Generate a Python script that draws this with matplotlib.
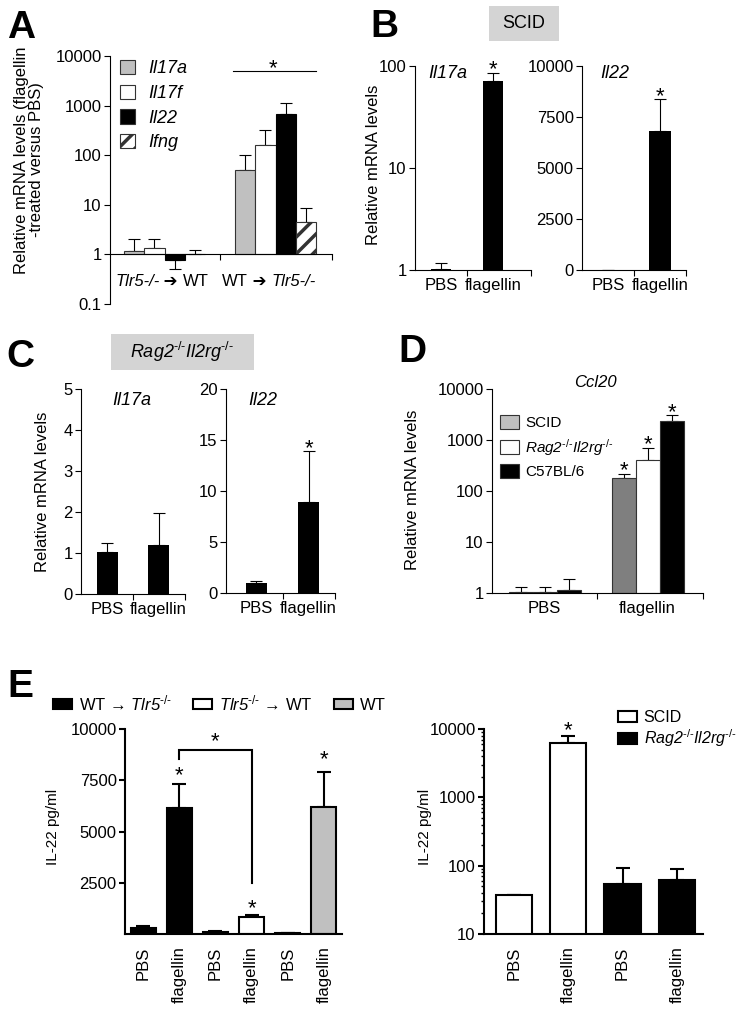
import matplotlib.pyplot as plt
from matplotlib.patches import Patch, Rectangle

plt.rcParams['font.family'] = ['Liberation Sans', 'DejaVu Sans']
plt.rcParams['font.size'] = 12
plt.rcParams['mathtext.fontset'] = 'custom'
plt.rcParams['mathtext.rm'] = 'Liberation Sans'
plt.rcParams['mathtext.it'] = 'Liberation Sans:italic'
plt.rcParams['mathtext.bf'] = 'Liberation Sans:bold'
plt.rcParams['hatch.linewidth'] = 2.5

GRAY = '#c0c0c0'
DARK_GRAY = '#7f7f7f'
W, H = 744, 1010
KO = '$^{\\text{-/-}}$'

# ---- data ----
# A: relative mRNA (flagellin vs PBS), bone-marrow chimeras
a_groups = ['Tlr5-/- ➔ WT', 'WT ➔ Tlr5-/-']
a_genes = ['Il17a', 'Il17f', 'Il22', 'Ifng']
a_il17a = [1.15, 50]
a_il17f = [1.34, 163]
a_il22 = [0.78, 690]
a_ifng = [1.02, 4.5]
a_il17a_sem = [0.92, 53]
a_il17f_sem = [0.66, 161]
a_il22_sem = [0.27, 440]
a_ifng_sem = [0.18, 4.2]

# B: SCID
b_conditions = ['PBS', 'flagellin']
b_il17a = [1.015, 71]
b_il17a_sem = [0.15, 15]
b_il22 = [15, 6800]
b_il22_sem = [0, 1570]

# C: Rag2-/-Il2rg-/-
c_conditions = ['PBS', 'flagellin']
c_il17a = [1.02, 1.19]
c_il17a_sem = [0.23, 0.78]
c_il22 = [1.02, 8.95]
c_il22_sem = [0.2, 4.98]

# D: Ccl20
d_conditions = ['PBS', 'flagellin']
d_strains = ['SCID', 'Rag2' + KO + 'Il2rg' + KO, 'C57BL/6']
d_scid = [1.03, 180]
d_rag = [1.04, 410]
d_c57 = [1.13, 2350]
d_scid_sem = [0.28, 38]
d_rag_sem = [0.27, 300]
d_c57_sem = [0.75, 800]

# E: IL-22 protein
e_left_labels = ['PBS', 'flagellin', 'PBS', 'flagellin', 'PBS', 'flagellin']
e_left_vals = [276, 6130, 114, 813, 49, 6210]
e_left_sem = [114, 1190, 49, 114, 0, 1710]
e_left_groups = ['$\\mathrm{WT}$ → Tlr5' + KO, 'Tlr5' + KO + ' → $\\mathrm{WT}$', 'WT']
e_right_labels = ['PBS', 'flagellin', 'PBS', 'flagellin']
e_right_vals = [37, 6230, 54, 62]
e_right_sem = [0, 1660, 38, 27]
e_right_groups = ['SCID', 'Rag2' + KO + 'Il2rg' + KO]


fig = plt.figure(figsize=(W / 100, H / 100), dpi=100)


def add_ax(left, top, right, bottom):
    return fig.add_axes([left / W, 1 - bottom / H, (right - left) / W, (bottom - top) / H])


def style_ax(ax, lw=0.8):
    ax.spines['top'].set_visible(False)
    ax.spines['right'].set_visible(False)
    ax.spines['left'].set_linewidth(lw)
    ax.spines['bottom'].set_linewidth(lw)
    ax.tick_params(axis='y', direction='out', length=4, width=lw, pad=2)


def set_x_cats(ax, centers, labels, bounds):
    ax.set_xticks(centers)
    ax.set_xticklabels(labels)
    ax.set_xticks(bounds, minor=True)
    ax.tick_params(axis='x', which='major', length=0, pad=6)
    ax.tick_params(axis='x', which='minor', length=4, width=0.8, direction='out')


def err_bars(ax, x, vals, sems, base=0, lw=0.8, cap=4):
    lower = [e if v < base else 0 for v, e in zip(vals, sems)]
    upper = [0 if v < base else e for v, e in zip(vals, sems)]
    ax.errorbar(x, vals, yerr=[lower, upper], fmt='none', ecolor='black',
                elinewidth=lw, capsize=cap, capthick=lw, zorder=1)


def star(ax, x, y, size=16):
    ax.annotate('*', (x, y), xytext=(0, -0.62 * size), textcoords='offset points',
                ha='center', va='baseline', fontsize=size, annotation_clip=False)


def chain_label(ax, x, y, label, dy):
    # label "a ➔ b": the Tlr5 part italic, the rest upright
    left, right = label.split(' ➔ ')
    prev = None
    for s in [left, ' ➔ ', right]:
        style = 'italic' if 'Tlr5' in s else 'normal'
        if prev is None:
            prev = ax.annotate(s, xy=(x, y), xytext=(0, dy), textcoords='offset points',
                               ha='left', va='center', fontstyle=style, annotation_clip=False)
        else:
            prev = ax.annotate(s, xy=(1, 0.5), xycoords=prev, ha='left', va='center',
                               fontstyle=style)


def panel_letter(x, y, s):
    fig.text(x / W, 1 - y / H, s, fontsize=28, fontweight='bold', va='baseline')


def ylabel(x, y, s, size=12, **kw):
    fig.text(x / W, 1 - y / H, s, rotation=90, ha='center', va='center', fontsize=size, **kw)


def gray_box(left, top, right, bottom, s, **kw):
    fig.patches.append(Rectangle((left / W, 1 - bottom / H), (right - left) / W,
                                 (bottom - top) / H, transform=fig.transFigure,
                                 facecolor='#d4d4d4', edgecolor='none'))
    fig.text((left + right) / 2 / W, 1 - (top + bottom) / 2 / H, s, ha='center',
             va='center', fontsize=13, **kw)


# ---- A ----
axA = add_ax(110, 56, 332, 304)
style_ax(axA)
axA.set_yscale('log')
axA.set_ylim(0.1, 10000)
axA.set_xlim(0, 10.94)
axA.set_yticks([0.1, 1, 10, 100, 1000, 10000])
axA.set_yticklabels(['0.1', '1', '10', '100', '1000', '10000'])
axA.minorticks_off()
axA.spines['bottom'].set_position(('data', 1))
a_centers = [2.69, 8.16]
a_series = [(a_il17a, a_il17a_sem, GRAY, ''), (a_il17f, a_il17f_sem, 'white', ''),
            (a_il22, a_il22_sem, 'black', ''), (a_ifng, a_ifng_sem, 'white', '//')]
a_handles = []
for i, (vals, sems, color, hatch) in enumerate(a_series):
    xs = [c + (i - 1.5) for c in a_centers]
    axA.bar(xs, [v - 1 for v in vals], bottom=1, width=1, color=color, hatch=hatch,
            edgecolor='#333333' if color != 'black' else 'black', linewidth=0.8, zorder=2)
    err_bars(axA, xs, vals, sems, base=1)
    a_handles.append(Patch(facecolor=color, hatch=hatch, edgecolor='#333333', linewidth=0.8))
set_x_cats(axA, a_centers, ['', ''], [5.42, 10.94])
for x0, label in zip([0.25, 5.52], a_groups):
    chain_label(axA, x0, 1, label, -19.5)
axA.plot([6.06, 10.15], [5000, 5000], color='black', lw=0.8)
star(axA, 8.03, 8300)
legA = axA.legend(a_handles, a_genes, loc='upper left', bbox_to_anchor=(120 / W, 1 - 60 / H),
                  bbox_transform=fig.transFigure, frameon=False, fontsize=13,
                  handlelength=0.85, handleheight=0.85, handletextpad=0.7,
                  labelspacing=0.4, borderpad=0, borderaxespad=0)
for t in legA.get_texts():
    t.set_fontstyle('italic')
panel_letter(7, 38, 'A')
ylabel(29, 160, 'Relative mRNA levels (flagellin\n-treated versus PBS)', linespacing=1.05)

# ---- B ----
axB1 = add_ax(415, 66, 531, 270)
style_ax(axB1)
axB1.set_yscale('log')
axB1.set_ylim(1, 100)
axB1.set_xlim(0, 5.8)
axB1.set_yticks([1, 10, 100])
axB1.set_yticklabels(['1', '10', '100'])
axB1.minorticks_off()
b_x1 = [1.3, 3.9]
axB1.bar(b_x1, [v - 1 for v in b_il17a], bottom=1, width=1, color='black', zorder=2)
err_bars(axB1, b_x1, b_il17a, b_il17a_sem)
set_x_cats(axB1, b_x1, b_conditions, [2.6, 5.8])
axB1.text(0.28, 0.965, 'Il17a', transform=axB1.transAxes, ha='center', va='center',
          fontstyle='italic', fontsize=13)
star(axB1, 3.9, 110)

axB2 = add_ax(582, 66, 686, 270)
style_ax(axB2)
axB2.set_ylim(0, 10000)
axB2.set_xlim(0, 4.73)
axB2.set_yticks([0, 2500, 5000, 7500, 10000])
b_x2 = [1.18, 3.55]
axB2.bar(b_x2, b_il22, width=1, color='black', zorder=2)
err_bars(axB2, b_x2, b_il22, b_il22_sem)
set_x_cats(axB2, b_x2, b_conditions, [2.36, 4.73])
axB2.text(0.32, 0.965, 'Il22', transform=axB2.transAxes, ha='center', va='center',
          fontstyle='italic', fontsize=13)
star(axB2, 3.55, 8920)
panel_letter(370, 37, 'B')
gray_box(489, 6, 559, 41, 'SCID')
ylabel(373, 165, 'Relative mRNA levels')

# ---- C ----
axC1 = add_ax(81, 389, 185, 594)
style_ax(axC1)
axC1.set_ylim(0, 5)
axC1.set_xlim(0, 4.95)
axC1.set_yticks([0, 1, 2, 3, 4, 5])
c_x1 = [1.24, 3.69]
axC1.bar(c_x1, c_il17a, width=1, color='black', zorder=2)
err_bars(axC1, c_x1, c_il17a, c_il17a_sem)
set_x_cats(axC1, c_x1, c_conditions, [2.48, 4.95])
axC1.text(0.49, 0.946, 'Il17a', transform=axC1.transAxes, ha='center', va='center',
          fontstyle='italic', fontsize=13)

axC2 = add_ax(226, 389, 335, 593)
style_ax(axC2)
axC2.set_ylim(0, 20)
axC2.set_xlim(0, 5.19)
axC2.set_yticks([0, 5, 10, 15, 20])
c_x2 = [1.45, 3.93]
axC2.bar(c_x2, c_il22, width=1, color='black', zorder=2)
err_bars(axC2, c_x2, c_il22, c_il22_sem)
set_x_cats(axC2, c_x2, c_conditions, [2.71, 5.19])
axC2.text(0.34, 0.946, 'Il22', transform=axC2.transAxes, ha='center', va='center',
          fontstyle='italic', fontsize=13)
star(axC2, 3.93, 15.0)
panel_letter(6, 367, 'C')
gray_box(111, 334, 254, 370, 'Rag2' + KO + 'Il2rg' + KO, fontstyle='italic')
ylabel(43, 492, 'Relative mRNA levels')

# ---- D ----
axD = add_ax(492, 389, 703, 593)
style_ax(axD)
axD.set_yscale('log')
axD.set_ylim(1, 10000)
axD.set_xlim(0, 8.79)
axD.set_yticks([1, 10, 100, 1000, 10000])
axD.set_yticklabels(['1', '10', '100', '1000', '10000'])
axD.minorticks_off()
d_centers = [2.19, 6.48]
d_series = [(d_scid, d_scid_sem, DARK_GRAY, GRAY), (d_rag, d_rag_sem, 'white', 'white'),
            (d_c57, d_c57_sem, 'black', 'black')]
d_handles = []
for i, (vals, sems, color, legend_color) in enumerate(d_series):
    xs = [c + (i - 1) for c in d_centers]
    axD.bar(xs, [v - 1 for v in vals], bottom=1, width=1, color=color,
            edgecolor='#333333', linewidth=0.8, zorder=2)
    err_bars(axD, xs, vals, sems)
    star(axD, xs[1], [370, 1150, 5100][i])
    d_handles.append(Patch(facecolor=legend_color, edgecolor='#333333', linewidth=0.8))
set_x_cats(axD, d_centers, d_conditions, [4.375, 8.79])
axD.text(0.49, 1.034, 'Ccl20', transform=axD.transAxes, ha='center', va='center',
         fontstyle='italic', fontsize=12)
legD = axD.legend(d_handles, d_strains, loc='upper left', bbox_to_anchor=(500 / W, 1 - 415 / H),
                  bbox_transform=fig.transFigure, frameon=False, fontsize=11,
                  handlelength=1.25, handleheight=1.05, handletextpad=0.4,
                  labelspacing=0.42, borderpad=0, borderaxespad=0)
legD.get_texts()[1].set_fontstyle('italic')
panel_letter(398, 362, 'D')
ylabel(413, 490, 'Relative mRNA levels')

# ---- E left ----
axE1 = add_ax(125, 729, 342, 934)
style_ax(axE1, lw=1.5)
axE1.set_ylim(0, 10000)
axE1.set_xlim(0, 6.0)
axE1.set_yticks([2500, 5000, 7500, 10000])
e_x1 = [0.5 + i for i in range(6)]
e_colors1 = ['black', 'black', 'white', 'white', GRAY, GRAY]
axE1.bar(e_x1, e_left_vals, width=0.69, color=e_colors1, edgecolor='black',
         linewidth=1.5, zorder=2)
err_bars(axE1, e_x1, e_left_vals, e_left_sem, lw=1.5, cap=5)
axE1.set_xticks(e_x1)
axE1.set_xticklabels(e_left_labels, rotation=90, fontsize=12)
axE1.tick_params(axis='x', length=0, pad=9)
axE1.plot([1.5, 1.5, 3.5, 3.5], [8540, 8975, 8975, 2490], color='black', lw=1.5,
          solid_joinstyle='miter')
star(axE1, 1.5, 8150)
star(axE1, 2.49, 9800)
star(axE1, 3.5, 1660)
star(axE1, 5.5, 8930)
e_handles1 = [Patch(facecolor=c, edgecolor='black', linewidth=1.5) for c in ['black', 'white', GRAY]]
legE1 = axE1.legend(e_handles1, e_left_groups, loc='center left', ncol=3,
                    bbox_to_anchor=(53 / W, 1 - 703 / H), bbox_transform=fig.transFigure,
                    frameon=False, fontsize=12, handlelength=1.15, handleheight=0.6,
                    handletextpad=0.42, columnspacing=1.26, borderpad=0, borderaxespad=0)
legE1.get_texts()[0].set_fontstyle('italic')
legE1.get_texts()[1].set_fontstyle('italic')
panel_letter(7, 697, 'E')
ylabel(53, 827, 'IL-22 pg/ml', size=11)

# ---- E right ----
axE2 = add_ax(484, 729, 703, 934)
style_ax(axE2, lw=1.5)
axE2.set_yscale('log')
axE2.set_ylim(10, 10000)
axE2.set_xlim(0, 4.03)
axE2.set_yticks([10, 100, 1000, 10000])
axE2.set_yticklabels(['10', '100', '1000', '10000'])
axE2.tick_params(axis='y', which='minor', length=2.5, width=1.0)
e_x2 = [0.55 + i for i in range(4)]
axE2.bar(e_x2, e_right_vals, width=0.67, color=['white', 'white', 'black', 'black'],
         edgecolor='black', linewidth=1.5, zorder=2)
err_bars(axE2, e_x2, e_right_vals, e_right_sem, lw=1.5, cap=5)
axE2.set_xticks(e_x2)
axE2.set_xticklabels(e_right_labels, rotation=90, fontsize=12)
axE2.tick_params(axis='x', which='both', length=0, pad=9)
star(axE2, 1.55, 12300)
e_handles2 = [Patch(facecolor=c, edgecolor='black', linewidth=1.5) for c in ['white', 'black']]
legE2 = axE2.legend(e_handles2, e_right_groups, loc='upper left',
                    bbox_to_anchor=(618 / W, 1 - 710 / H), bbox_transform=fig.transFigure,
                    frameon=False, fontsize=11.5, handlelength=1.2, handleheight=0.62,
                    handletextpad=0.4, labelspacing=0.15, borderpad=0, borderaxespad=0)
legE2.get_texts()[1].set_fontstyle('italic')
ylabel(425, 827, 'IL-22 pg/ml', size=11)

fig.savefig('out.png', dpi=100)
